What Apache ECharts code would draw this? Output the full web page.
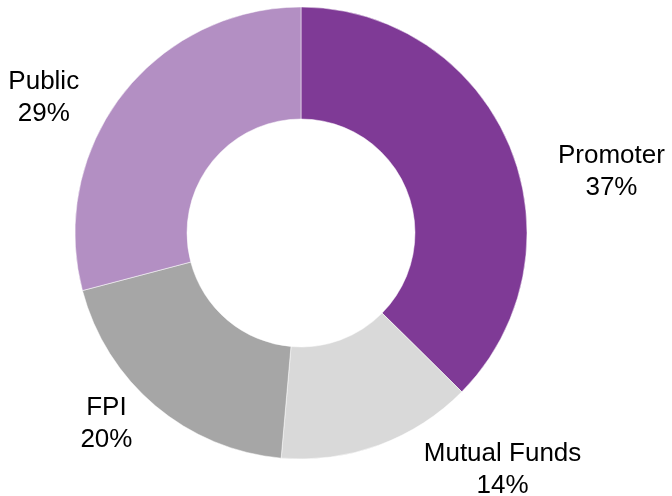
<!DOCTYPE html>
<html>
<head>
<meta charset="utf-8">
<script src="https://cdn.jsdelivr.net/npm/echarts@6/dist/echarts.min.js"></script>
<style>html,body{margin:0;padding:0;background:#fff}#c{width:672px;height:496px}</style>
</head>
<body>
<div id="c"></div>
<script>
const categories = ['Promoter', 'Mutual Funds', 'FPI', 'Public'];
const values = [37.4, 14.0, 19.5, 29.1];
const colors = ['#7F3A96', '#D9D9D9', '#A6A6A6', '#B38FC3'];

// label nudges (styling offsets from the library's outside label position)
const labelShift = [[25, 34], [33, 6], [-5, 3], [-22, 15]];

const chart = echarts.init(document.getElementById('c'), null, {renderer: 'canvas'});
chart.setOption({
  animation: false,
  series: [{
    type: 'pie',
    center: [301, 233],
    radius: [114, 226],
    startAngle: 90,
    clockwise: true,
    avoidLabelOverlap: false,
    itemStyle: {borderColor: '#fff', borderWidth: 0.5},
    label: {
      show: true,
      position: 'outside',
      formatter: p => p.name + '\n' + Math.round(p.value) + '%',
      fontFamily: 'Liberation Sans, Arial, sans-serif',
      fontSize: 26,
      lineHeight: 32,
      color: '#000'
    },
    labelLine: {show: false, length: 20, length2: 0},
    labelLayout: function (params) {
      const r = params.labelRect;
      const s = labelShift[params.dataIndex];
      return {
        x: r.x + r.width / 2 + s[0],
        y: r.y + r.height / 2 + s[1],
        align: 'center',
        verticalAlign: 'middle'
      };
    },
    data: categories.map((n, i) => ({name: n, value: values[i], itemStyle: {color: colors[i]}}))
  }]
});
</script>
</body>
</html>
